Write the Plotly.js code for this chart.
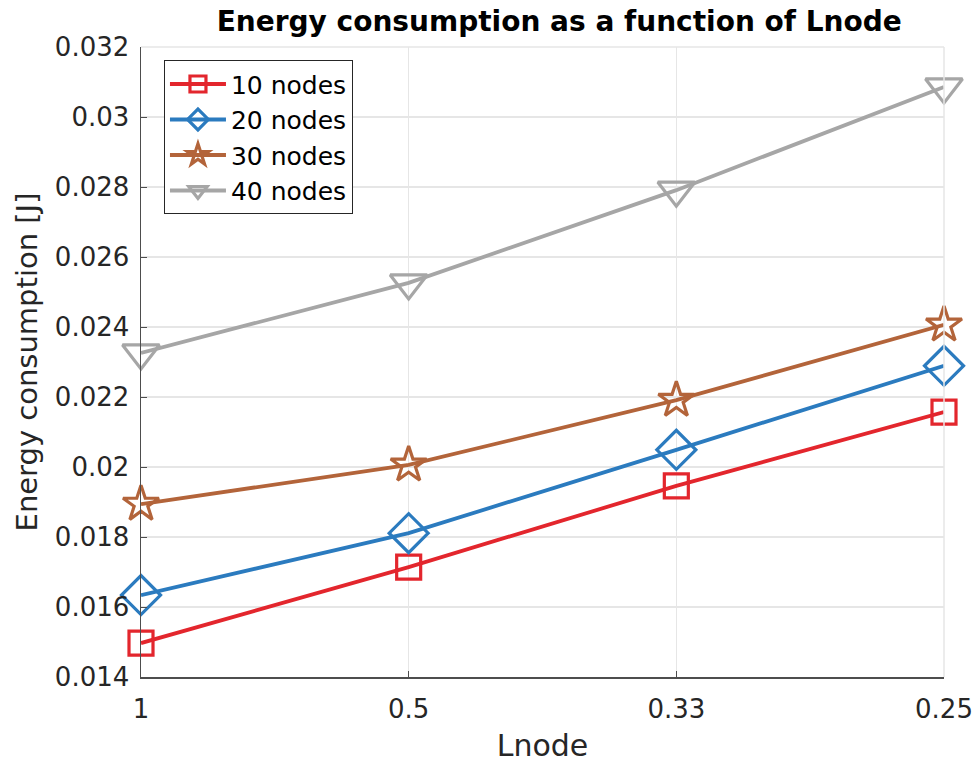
<!DOCTYPE html>
<html>
<head>
<meta charset="utf-8">
<script src="https://cdn.plot.ly/plotly-3.0.1.min.js"></script>
<style>html,body{margin:0;padding:0;background:#fff;}#chart{width:976px;height:765px;}</style>
</head>
<body>
<div id="chart"></div>
<script>
const lnode = ["1", "0.5", "0.33", "0.25"];
const nodes10 = [0.01497, 0.01714, 0.01946, 0.02157];
const nodes20 = [0.01634, 0.01811, 0.02049, 0.02289];
const nodes30 = [0.01894, 0.02006, 0.02191, 0.02406];
const nodes40 = [0.02326, 0.02526, 0.02791, 0.03086];
const seriesNames = ["10 nodes", "20 nodes", "30 nodes", "40 nodes"];
const yTickVals = [0.014, 0.016, 0.018, 0.020, 0.022, 0.024, 0.026, 0.028, 0.030, 0.032];
const yTickText = ["0.014", "0.016", "0.018", "0.02", "0.022", "0.024", "0.026", "0.028", "0.03", "0.032"];

const styles = [
  {color: "#E3262D", symbol: "square-open", size: 24},
  {color: "#2B7BBF", symbol: "diamond-open", size: 30},
  {color: "#B3643A", symbol: "star-open", size: 27},
  {color: "#A6A6A6", symbol: "triangle-down-open", size: 32}
];
const ys = [nodes10, nodes20, nodes30, nodes40];
const traces = ys.map((y, i) => ({
  x: lnode, y: y, name: seriesNames[i], type: "scatter", mode: "lines+markers",
  cliponaxis: false,
  line: {color: styles[i].color, width: 3.8},
  marker: {symbol: styles[i].symbol, size: styles[i].size, color: styles[i].color,
           line: {color: styles[i].color, width: 3.2}}
}));

const FONT = "DejaVu Sans, Liberation Sans, Arial, sans-serif";
const layout = {
  width: 976, height: 765,
  margin: {l: 141, r: 32, t: 47, b: 88},
  paper_bgcolor: "#fff", plot_bgcolor: "#fff",
  font: {family: FONT, color: "#262626", size: 26},
  title: {text: "<b>Energy consumption as a function of Lnode</b>", x: 0.573, xanchor: "center", y: 0.972, yanchor: "middle",
          font: {family: FONT, size: 28, color: "#000"}},
  xaxis: {
    type: "category", range: [0, 3], categoryorder: "array", categoryarray: lnode,
    showgrid: true, gridcolor: "#e6e6e6", gridwidth: 1.5,
    showline: true, linecolor: "#4d4d4d", linewidth: 1.5, mirror: false,
    ticks: "inside", ticklen: 6, tickcolor: "#4d4d4d", ticklabelstandoff: 8,
    tickfont: {family: FONT, size: 26, color: "#262626"},
    title: {text: "Lnode", font: {family: FONT, size: 30, color: "#262626"}, standoff: 12},
    zeroline: false
  },
  yaxis: {
    range: [0.014, 0.032], tickvals: yTickVals, ticktext: yTickText,
    showgrid: true, gridcolor: "#e6e6e6", gridwidth: 1.5,
    showline: true, linecolor: "#4d4d4d", linewidth: 1.5,
    ticks: "inside", ticklen: 6, tickcolor: "#4d4d4d", ticklabelstandoff: 5,
    tickfont: {family: FONT, size: 26, color: "#262626"},
    title: {text: "Energy consumption [J]", font: {family: FONT, size: 29, color: "#262626"}, standoff: 8},
    zeroline: false
  },
  shapes: [
    {type: "line", xref: "paper", yref: "paper", x0: 0, x1: 1, y0: 1, y1: 1, line: {color: "#e6e6e6", width: 1.5}},
    {type: "line", xref: "paper", yref: "paper", x0: 1, x1: 1, y0: 0, y1: 1, line: {color: "#e6e6e6", width: 1.5}}
  ],
  showlegend: true,
  legend: {
    x: 0.0286, y: 0.979, xanchor: "left", yanchor: "top",
    bgcolor: "#fff", bordercolor: "#262626", borderwidth: 1, itemwidth: 56,
    font: {family: FONT, size: 25, color: "#000"}, tracegroupgap: 0
  }
};
Plotly.newPlot("chart", traces, layout, {displayModeBar: false, staticPlot: true});
</script>
</body>
</html>
